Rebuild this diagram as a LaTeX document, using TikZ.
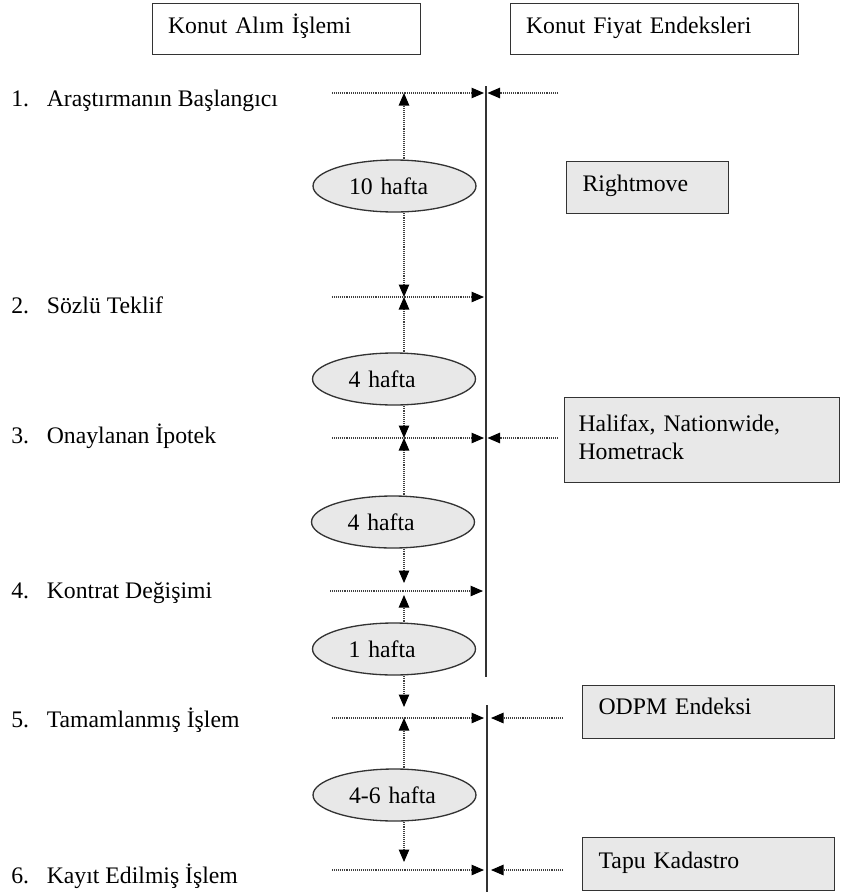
\documentclass[tikz,border=0pt]{standalone}
\usepackage{fontspec}
\setmainfont{Liberation Serif}
\usetikzlibrary{arrows.meta,shapes.geometric,positioning}
\definecolor{Boxgray}{HTML}{E8E8E8}
\definecolor{Edge}{HTML}{333333}

\begin{document}
\begin{tikzpicture}[x=0.02cm,y=-0.02cm,
  font=\fontsize{13.5}{16}\selectfont,
  hdr/.style={draw=Edge,line width=0.7pt,anchor=north west,align=left,
    inner xsep=0.31cm,inner ysep=0.28cm,text height=0.31cm},
  idx/.style={hdr,fill=Boxgray},
  wk/.style={ellipse,draw=Edge,line width=0.75pt,fill=Boxgray,minimum width=3.26cm,
    minimum height=1.04cm,text width=1.82cm,align=left,inner sep=1pt},
  stage/.style={anchor=base west,inner sep=0pt},
  dots/.style={black!75,line width=0.6pt,dash pattern=on 0.5pt off 0.6pt,
    -{Triangle[length=0.25cm,width=0.21cm,color=black]}},
  axis/.style={Edge,line width=0.8pt}]
  \useasboundingbox (0,0) rectangle (844,893);

  % headers
  \node[hdr,text width=4.74cm,text depth=0.15cm] (buy) at (152,3) {Konut Alım İşlemi};
  \node[hdr,text width=5.14cm,text depth=0.15cm] (hpi) at (510,3) {Konut Fiyat Endeksleri};

  % time axis of the indices
  \coordinate (ax1) at (486,86);
  \coordinate (ax2) at (486,677);
  \coordinate (ax3) at (487,705);
  \coordinate (ax4) at (487,892);
  \draw[axis] (ax1) -- (ax2);
  \draw[axis] (ax3) -- (ax4);

  % stages
  \node[stage] (st1) at (11,106) {\makebox[0.71cm][l]{1.}Araştırmanın Başlangıcı};
  \node[stage] (st2) at (11,313) {\makebox[0.71cm][l]{2.}Sözlü Teklif};
  \node[stage] (st3) at (11,443) {\makebox[0.71cm][l]{3.}Onaylanan İpotek};
  \node[stage] (st4) at (11,598) {\makebox[0.71cm][l]{4.}Kontrat Değişimi};
  \node[stage] (st5) at (11,727) {\makebox[0.71cm][l]{5.}Tamamlanmış İşlem};
  \node[stage] (st6) at (11,883) {\makebox[0.71cm][l]{6.}Kayıt Edilmiş İşlem};

  % durations
  \node[wk] (w1) at (394.5,186) {10 hafta};
  \node[wk] (w2) at (394,379) {4 hafta};
  \node[wk] (w3) at (393,522) {4 hafta};
  \node[wk] (w4) at (394,649) {1 hafta};
  \node[wk] (w5) at (394.5,795) {4-6 hafta};

  % index sources
  \node[idx,text width=2.6cm,inner xsep=0.32cm,text depth=0.17cm] (rm) at (566,161) {Rightmove};
  \node[idx,text width=4.94cm,inner xsep=0.28cm,inner ysep=0.36cm,text depth=0.67cm] (hx) at (564,397) {Halifax, Nationwide,\\Hometrack};
  \node[idx,text width=4.4cm,inner xsep=0.32cm,inner ysep=0.26cm,text depth=0.23cm] (od) at (582,685) {ODPM Endeksi};
  \node[idx,text width=4.4cm,inner xsep=0.32cm,inner ysep=0.3cm,text depth=0.15cm] (tk) at (582,837) {Tapu Kadastro};

  % dotted markers
  \coordinate (col) at (404,0);
  \coordinate (h1) at (332,93);
  \coordinate (h2) at (332,297);
  \coordinate (h3) at (332,438);
  \coordinate (h4) at (330,591);
  \coordinate (h5) at (332,718);
  \coordinate (h6) at (332,870);
  \coordinate (g1) at (558,93);
  \coordinate (g3) at (558,438);
  \coordinate (g5) at (563,718);
  \coordinate (g6) at (563,870);

  \draw[dots,shorten >=0.04cm] (h1) -- (h1 -| ax1);
  \draw[dots,shorten >=0.04cm] (h2) -- (h2 -| ax1);
  \draw[dots,shorten >=0.04cm] (h3) -- (h3 -| ax1);
  \draw[dots,shorten >=0.06cm] (h4) -- (h4 -| ax1);
  \draw[dots,shorten >=0.06cm] (h5) -- (h5 -| ax3);
  \draw[dots,shorten >=0.06cm] (h6) -- (h6 -| ax3);
  \draw[dots,shorten >=0.03cm] (g1) -- (g1 -| ax1);
  \draw[dots,shorten >=0.03cm] (g3) -- (g3 -| ax1);
  \draw[dots,shorten >=0.08cm] (g5) -- (g5 -| ax3);
  \draw[dots,shorten >=0.08cm] (g6) -- (g6 -| ax3);

  \draw[dots] (w1.north -| col) -- (h1 -| col);
  \draw[dots] (w1.south -| col) -- (h2 -| col);
  \draw[dots] (w2.north -| col) -- (h2 -| col);
  \draw[dots] (w2.south -| col) -- (h3 -| col);
  \draw[dots] (w3.north -| col) -- (h3 -| col);
  \draw[dots,shorten >=0.16cm] (w3.south -| col) -- (h4 -| col);
  \draw[dots,shorten >=0.08cm] (w4.north -| col) -- (h4 -| col);
  \draw[dots,shorten >=0.22cm] (w4.south -| col) -- (h5 -| col);
  \draw[dots] (w5.north -| col) -- (h5 -| col);
  \draw[dots,shorten >=0.16cm] (w5.south -| col) -- (h6 -| col);
\end{tikzpicture}
\end{document}
